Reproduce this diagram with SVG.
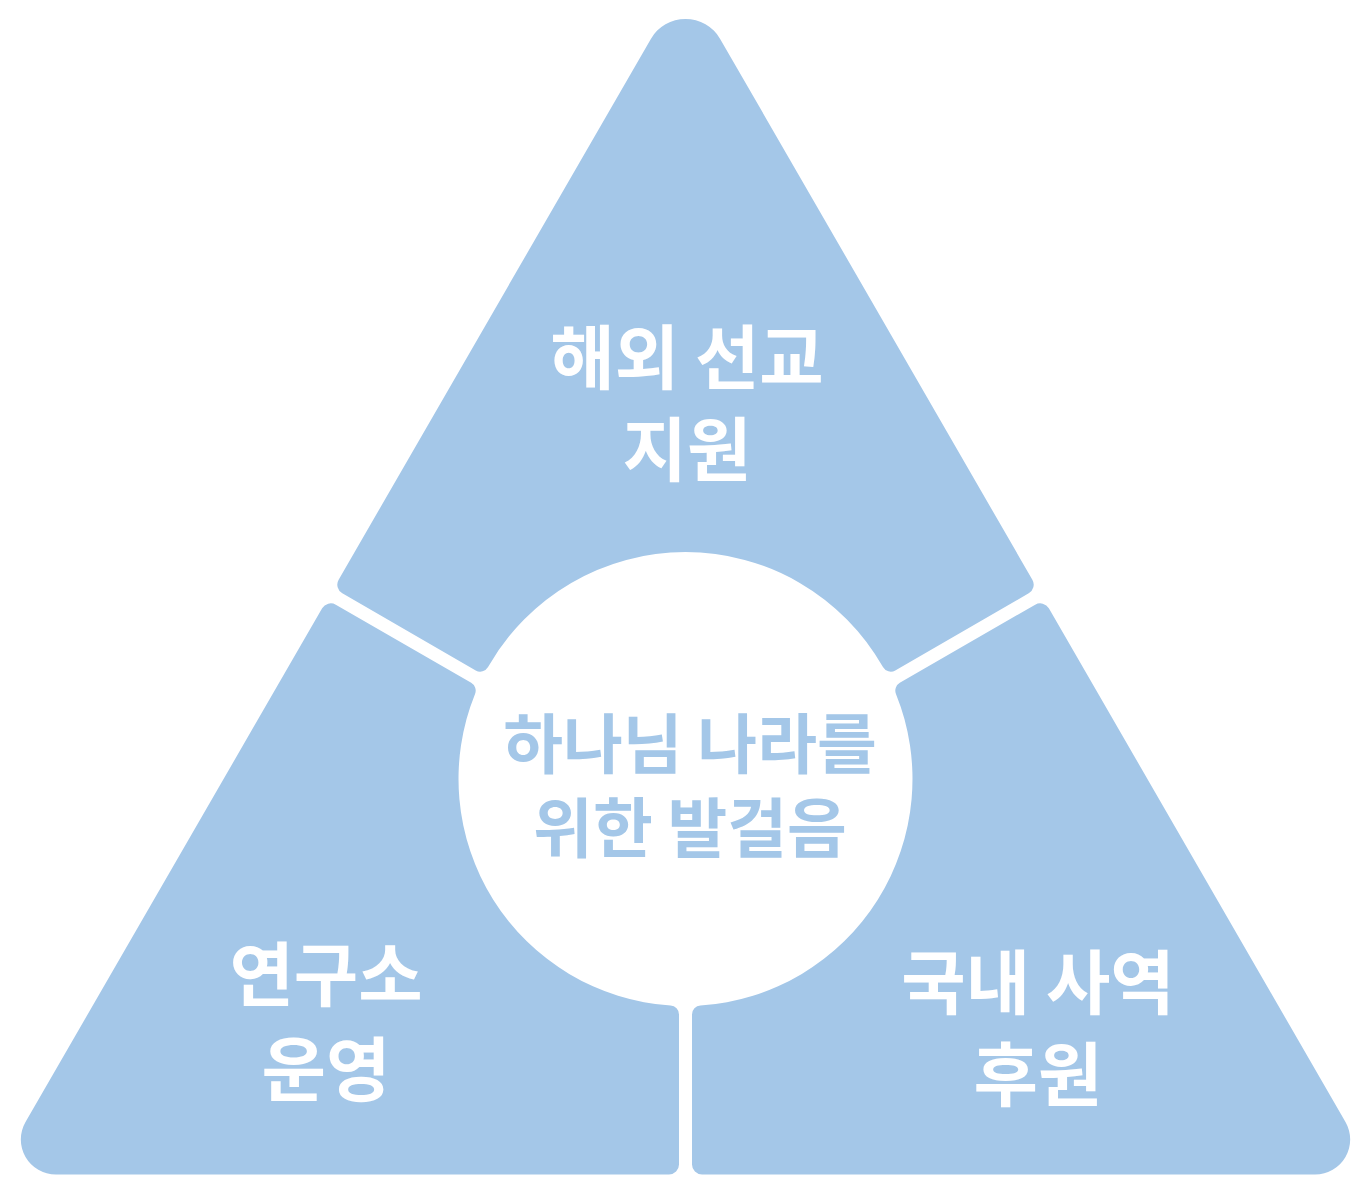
<svg xmlns="http://www.w3.org/2000/svg" width="1372" height="1196" viewBox="0 0 1372 1196">
<style>
.seg{fill:#a4c7e8}
.lbl{font-family:"Noto Sans CJK KR","Noto Sans",sans-serif;font-weight:700;fill:#ffffff;text-anchor:middle}
.ctr{font-family:"Noto Sans CJK KR","Noto Sans",sans-serif;font-weight:700;fill:#a4c7e8;text-anchor:middle}
</style>
<rect width="1372" height="1196" fill="#ffffff"/>
<g id="node-top">
<path class="seg" d="M 338.65 579.71 L 650.86 38.9 A 40 40 0 0 1 720.14 38.9 L 1032.35 579.71 A 10 10 0 0 1 1028.69 593.37 L 895.28 670.40 A 9 9 0 0 1 882.95 667.05 A 227 227 0 0 0 488.05 667.05 A 9 9 0 0 1 475.72 670.40 L 342.31 593.37 A 10 10 0 0 1 338.65 579.71 Z"/>
<text class="lbl" font-size="70"><tspan x="687" y="384">해외 선교</tspan><tspan x="687" y="476">지원</tspan></text>
</g>
<g id="node-left">
<path class="seg" d="M 25.51 1122.0 L 322.15 608.29 A 10 10 0 0 1 335.81 604.63 L 471.19 682.80 A 9 9 0 0 1 475.04 693.96 A 227 227 0 0 0 670.59 1005.51 A 9 9 0 0 1 679 1014.49 L 679 1164.5 A 10 10 0 0 1 669 1174.5 L 55.82 1174.5 A 35 35 0 0 1 25.51 1122.0 Z"/>
<text class="lbl" font-size="70"><tspan x="326" y="1001">연구소</tspan><tspan x="326" y="1096">운영</tspan></text>
</g>
<g id="node-right">
<path class="seg" transform="translate(1371 0) scale(-1 1)" d="M 25.51 1122.0 L 322.15 608.29 A 10 10 0 0 1 335.81 604.63 L 471.19 682.80 A 9 9 0 0 1 475.04 693.96 A 227 227 0 0 0 670.59 1005.51 A 9 9 0 0 1 679 1014.49 L 679 1164.5 A 10 10 0 0 1 669 1174.5 L 55.82 1174.5 A 35 35 0 0 1 25.51 1122.0 Z"/>
<text class="lbl" font-size="70"><tspan x="1038" y="1009">국내 사역</tspan><tspan x="1038" y="1101">후원</tspan></text>
</g>
<g id="node-center">
<text class="ctr" font-size="65"><tspan x="690" y="768">하나님 나라를</tspan><tspan x="690" y="852">위한 발걸음</tspan></text>
</g>
<g id="connectors"></g>
</svg>
